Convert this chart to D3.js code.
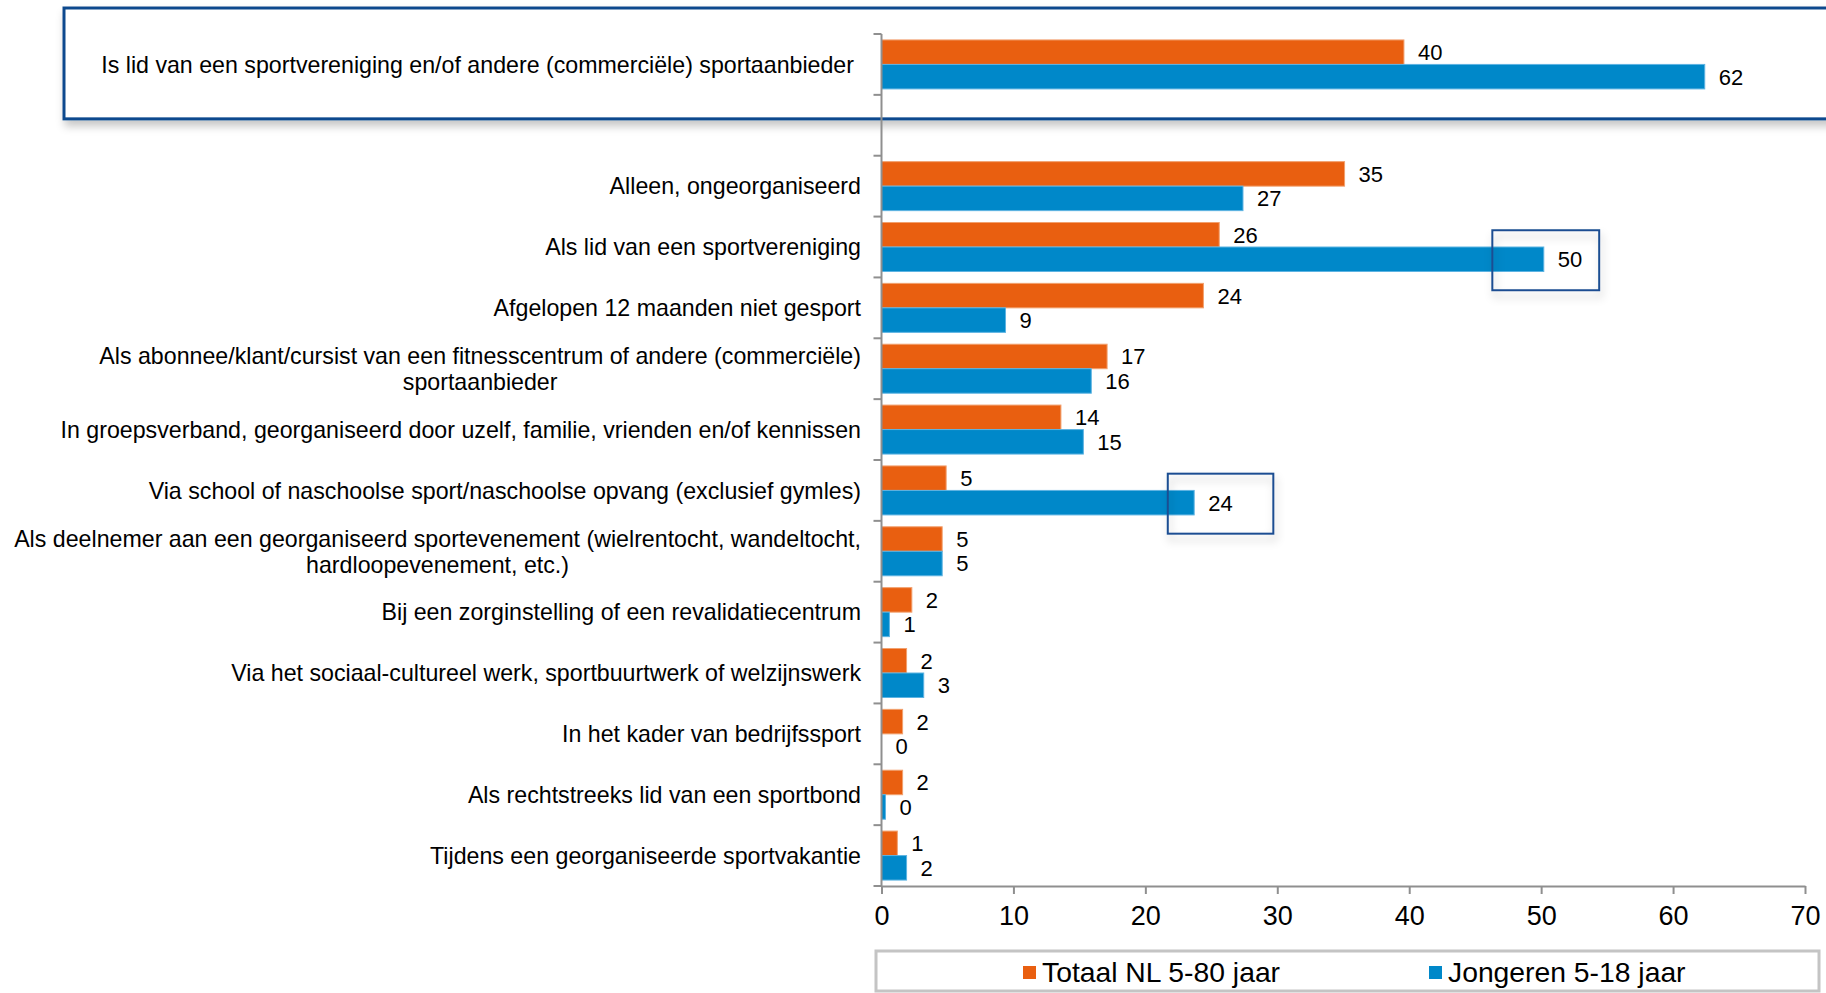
<!DOCTYPE html>
<html><head><meta charset="utf-8">
<script src="https://cdn.jsdelivr.net/npm/d3@7"></script>
<style>
body{margin:0;background:#fff;overflow:hidden}
svg{display:block;font-family:"Liberation Sans",Arial,sans-serif}
</style>
</head><body><svg id="c" width="1826" height="993"></svg>
<script>
// ---- data ----
const highlightCategory = ["Is lid van een sportvereniging en/of andere (commerciële) sportaanbieder"];
const categories = [
  "Alleen, ongeorganiseerd",
  "Als lid van een sportvereniging",
  "Afgelopen 12 maanden niet gesport",
  "Als abonnee/klant/cursist van een fitnesscentrum of andere (commerciële)\nsportaanbieder",
  "In groepsverband, georganiseerd door uzelf, familie, vrienden en/of kennissen",
  "Via school of naschoolse sport/naschoolse opvang (exclusief gymles)",
  "Als deelnemer aan een georganiseerd sportevenement (wielrentocht, wandeltocht,\nhardloopevenement, etc.)",
  "Bij een zorginstelling of een revalidatiecentrum",
  "Via het sociaal-cultureel werk, sportbuurtwerk of welzijnswerk",
  "In het kader van bedrijfssport",
  "Als rechtstreeks lid van een sportbond",
  "Tijdens een georganiseerde sportvakantie"
];
const seriesNames = ["Totaal NL 5-80 jaar", "Jongeren 5-18 jaar"];
const totaalHighlight = [39.6];
const jongerenHighlight = [62.4];
const totaal   = [35.1, 25.6, 24.4, 17.1, 13.6, 4.9, 4.6, 2.3, 1.9, 1.6, 1.6, 1.2];
const jongeren = [27.4, 50.2, 9.4, 15.9, 15.3, 23.7, 4.6, 0.6, 3.2, 0.0, 0.3, 1.9];
const xTicks = [0, 10, 20, 30, 40, 50, 60, 70];
const calloutCategories = ["Als lid van een sportvereniging", "Via school of naschoolse sport/naschoolse opvang (exclusief gymles)"];
const calloutRanges = [[46.3, 54.4], [21.7, 29.7]];

// ---- styling ----
const colors = ["#E95F10", "#0088C9"];
const strokes = ["#F2A06E", "#5DB3E2"];
const GAP = "__gap__";

const svg = d3.select("#c");
const defs = svg.append("defs");
const f = defs.append("filter").attr("id", "sh").attr("x", "-10%").attr("y", "-30%").attr("width", "130%").attr("height", "180%");
f.append("feDropShadow").attr("dx", 2).attr("dy", 6).attr("stdDeviation", 4)
  .attr("flood-color", "#000").attr("flood-opacity", 0.22);

const x = d3.scaleLinear().domain([0, 70]).range([881.5, 1805]);
const allCats = [highlightCategory[0], GAP, ...categories];
const y = d3.scaleBand().domain(allCats).range([34, 886]).padding(0);
const bw = y.bandwidth();
const barH = bw * 0.4025;
const barOff = (bw - 2 * barH) / 2;

const rows = [
  {cat: highlightCategory[0], vals: [totaalHighlight[0], jongerenHighlight[0]]},
  ...categories.map((c, i) => ({cat: c, vals: [totaal[i], jongeren[i]]}))
];

// highlight box around top row
const hy0 = y(highlightCategory[0]);
svg.append("rect")
  .attr("x", 64).attr("y", hy0 - 26)
  .attr("width", 1900).attr("height", bw + 50)
  .attr("fill", "#fff").attr("stroke", "#0E4A8E").attr("stroke-width", 3)
  .attr("filter", "url(#sh)");

// bars
const g = svg.append("g");
rows.forEach(r => {
  r.vals.forEach((v, s) => {
    const by = y(r.cat) + barOff + s * barH;
    g.append("rect")
      .attr("x", x(0)).attr("y", by)
      .attr("width", Math.max(0, x(v) - x(0))).attr("height", barH)
      .attr("fill", colors[s])
      .attr("stroke", v > 0 ? strokes[s] : "none").attr("stroke-width", 1);
    g.append("text")
      .attr("x", x(v) + 14).attr("y", by + barH / 2)
      .attr("dy", "0.36em")
      .attr("font-size", 22).attr("fill", "#000")
      .text(Math.round(v));
  });
});

// callout boxes
calloutCategories.forEach((c, i) => {
  const cy = y(c) + barOff + barH * 1.5;
  svg.append("rect")
    .attr("x", x(calloutRanges[i][0])).attr("y", cy - 29)
    .attr("width", x(calloutRanges[i][1]) - x(calloutRanges[i][0])).attr("height", 60)
    .attr("fill", "none").attr("stroke", "#1A4E92").attr("stroke-width", 2)
    .attr("filter", "url(#sh)");
});

// y axis line and ticks
const axisColor = "#8F8F8F";
svg.append("line").attr("x1", x(0)).attr("x2", x(0))
  .attr("y1", y.range()[0]).attr("y2", y.range()[1])
  .attr("stroke", axisColor).attr("stroke-width", 2);
const bounds = allCats.map(c => y(c)).concat([y.range()[1]]);
svg.selectAll(".yt").data(bounds).enter().append("line")
  .attr("x1", x(0) - 8).attr("x2", x(0))
  .attr("y1", d => d).attr("y2", d => d)
  .attr("stroke", axisColor).attr("stroke-width", 2);

// category labels
function drawLabel(cat, rightX) {
  const lines = cat.split("\n");
  const cy = y(cat) + bw / 2;
  const lh = 26;
  const t = svg.append("text").attr("font-size", 23.2).attr("fill", "#000");
  const spans = lines.map((ln, i) => t.append("tspan")
    .attr("y", cy + (i - (lines.length - 1) / 2) * lh)
    .attr("dy", "0.36em").text(ln));
  if (lines.length === 1) {
    t.attr("text-anchor", "end"); spans[0].attr("x", rightX);
  } else {
    const w = Math.max(...spans.map(s => s.node().getComputedTextLength()));
    t.attr("text-anchor", "middle");
    spans.forEach(s => s.attr("x", rightX - w / 2));
  }
}
drawLabel(highlightCategory[0], 854);
categories.forEach(c => drawLabel(c, 861));

// x axis
const xa = svg.append("g").attr("transform", `translate(0,${y.range()[1]})`)
  .call(d3.axisBottom(x).tickValues(xTicks).tickSize(8).tickSizeOuter(0).tickPadding(12));
xa.select(".domain").attr("stroke", axisColor).attr("stroke-width", 2);
xa.selectAll(".tick line").attr("stroke", axisColor).attr("stroke-width", 2);
xa.selectAll(".tick text").attr("font-size", 27).attr("fill", "#000")
  .attr("font-family", "'Liberation Sans', Arial, sans-serif");

// legend
svg.append("rect").attr("x", 876).attr("y", 951).attr("width", 943).attr("height", 40)
  .attr("fill", "none").attr("stroke", "#C4C4C4").attr("stroke-width", 3);
const legX = [1023, 1429];
seriesNames.forEach((n, i) => {
  svg.append("rect").attr("x", legX[i]).attr("y", 966).attr("width", 13).attr("height", 13)
    .attr("fill", colors[i]);
  svg.append("text").attr("x", legX[i] + 19).attr("y", 972).attr("dy", "0.36em")
    .attr("font-size", 28.3).attr("fill", "#000").text(n);
});
</script>
</body></html>
